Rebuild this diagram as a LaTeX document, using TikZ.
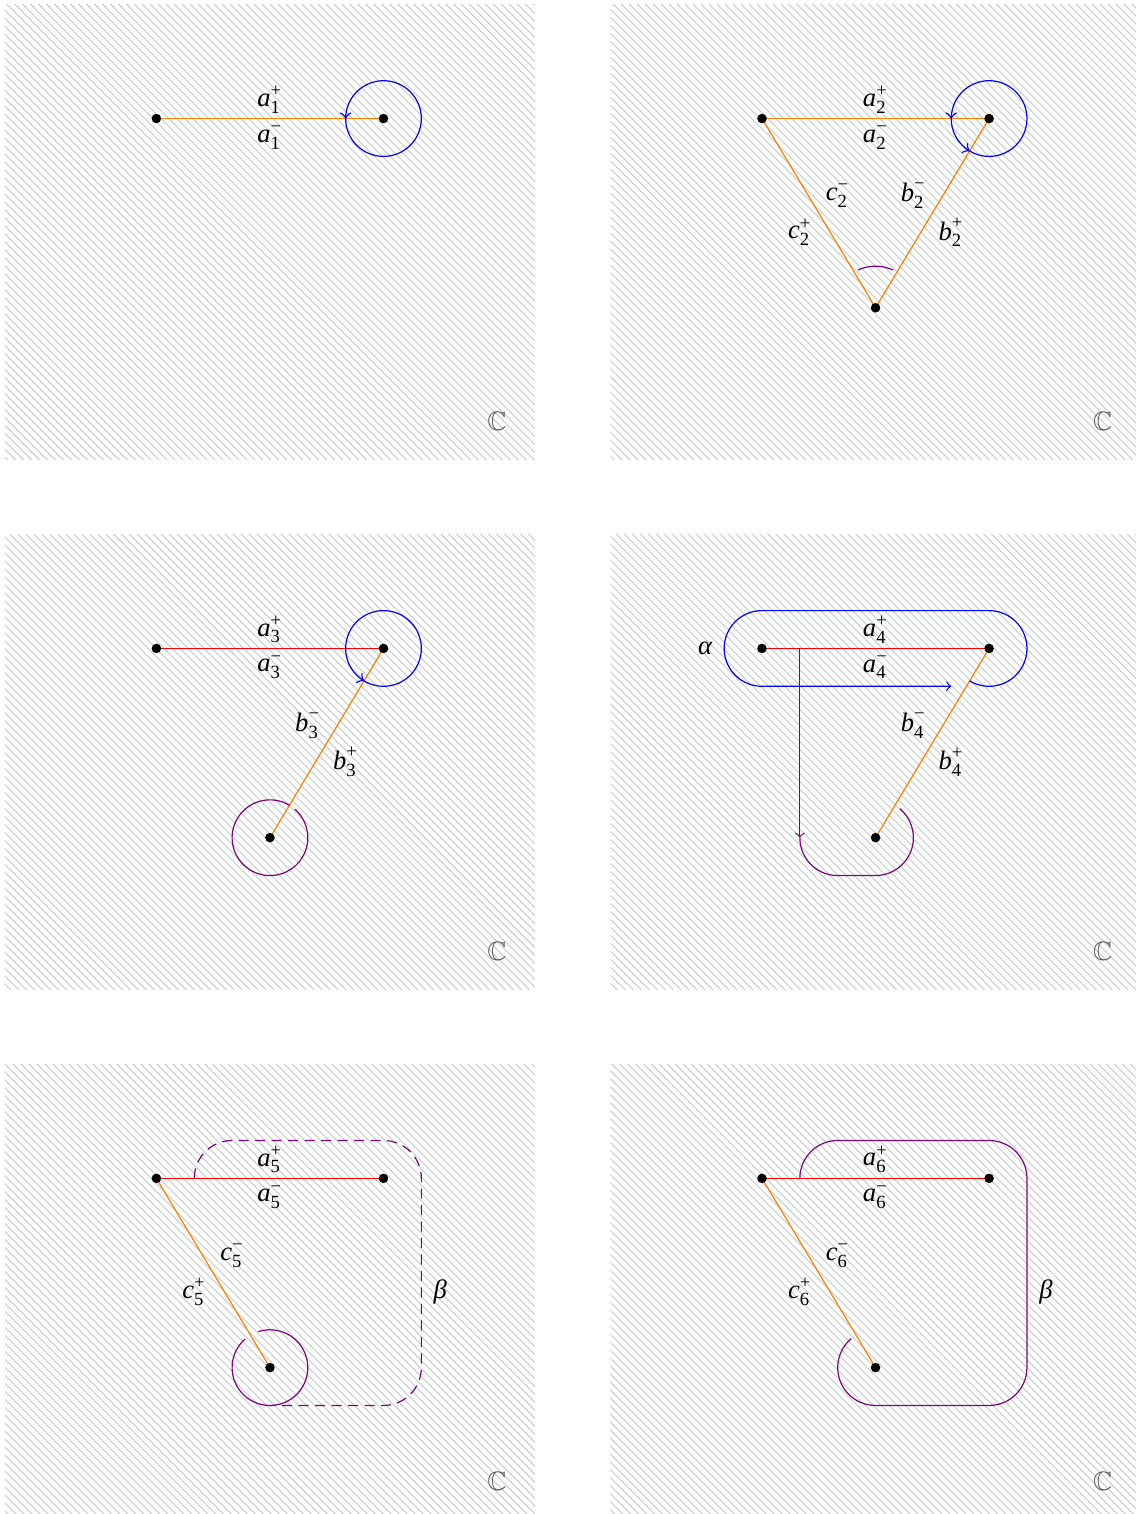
\documentclass[tikz,border=0pt]{standalone}
\usepackage{amssymb}
\usepackage{fontspec}
\setmainfont{Liberation Serif}
\newfontfamily\tms{Liberation Serif}
\usetikzlibrary{patterns,decorations.markings,calc}
\definecolor{mypurple}{RGB}{128,0,128}
\definecolor{myorange}{RGB}{255,128,0}
\definecolor{hatch}{RGB}{200,208,208}
\newcommand{\lab}[3]{$\mbox{\tms\itshape #1}_{\mbox{\tms\scriptsize #2}}^{\mbox{\tms\scriptsize #3}}$}
\tikzset{
  pt/.style={circle,fill=black,inner sep=0pt,minimum size=3.6pt},
  lbl/.style={inner sep=0pt,font=\tms},
  panelbg/.style={pattern=north west lines,pattern color=hatch,draw=none},
  arrowat/.style={postaction={decorate,decoration={markings,mark=at position #1 with {\arrow[scale=1.2]{to}}}}},
  cpl/.style={text=black!65},
  betadash/.style={dash pattern=on 3.8pt off 2.4pt},
  every path/.style={line width=0.45pt}
}
\begin{document}
\begin{tikzpicture}[x=1cm,y=1cm]
\useasboundingbox (-2.066,-18.434) rectangle (12.934,1.566);
% backgrounds
\foreach \dx/\dy in {0/0,8/0,0/-7,8/-7,0/-14,8/-14}{
  \fill[panelbg] (\dx-2,\dy-4.5) rectangle (\dx+5,\dy+1.5);
  \node[cpl] at (\dx+4.5,\dy-4) {$\mathbb{C}$};
}
% ---------- panel 1
\begin{scope}
\coordinate (A1) at (0,0);
\coordinate (B1) at (3,0);
\draw[myorange] (A1) -- (B1);
\draw[blue,arrowat=0.25] ($(B1)+(90:0.5)$) arc[start angle=90,end angle=450,radius=0.5];
\node[pt] (dA1) at (A1) {};
\node[pt] (dB1) at (B1) {};
\node[lbl] (la1p) at (1.5,0.25) {\lab{a}{1}{+}};
\node[lbl] (la1m) at (1.5,-0.25) {\lab{a}{1}{−}};
\end{scope}
% ---------- panel 2
\begin{scope}[shift={(8,0)}]
\coordinate (A2) at (0,0);
\coordinate (B2) at (3,0);
\coordinate (C2) at (1.5,-2.5);
\draw[myorange] (A2) -- (B2);
\draw[myorange] (B2) -- (C2);
\draw[myorange] (C2) -- (A2);
\draw[blue,arrowat=0.25,arrowat=0.414] ($(B2)+(90:0.5)$) arc[start angle=90,end angle=450,radius=0.5];
\draw[mypurple] ($(C2)+(65:0.55)$) arc[start angle=65,end angle=115,radius=0.55];
\node[pt] (dA2) at (A2) {};
\node[pt] (dB2) at (B2) {};
\node[pt] (dC2) at (C2) {};
\node[lbl] at (1.5,0.25) {\lab{a}{2}{+}};
\node[lbl] at (1.5,-0.25) {\lab{a}{2}{−}};
\node[lbl] at (1,-1.02) {\lab{c}{2}{−}};
\node[lbl] at (0.5,-1.5) {\lab{c}{2}{+}};
\node[lbl] at (2,-1.02) {\lab{b}{2}{−}};
\node[lbl] at (2.5,-1.5) {\lab{b}{2}{+}};
\end{scope}
% ---------- panel 3
\begin{scope}[shift={(0,-7)}]
\coordinate (A3) at (0,0);
\coordinate (B3) at (3,0);
\coordinate (C3) at (1.5,-2.5);
\draw[red] (A3) -- (B3);
\draw[myorange] (B3) -- (C3);
\draw[blue,arrowat=0.414] ($(B3)+(90:0.5)$) arc[start angle=90,end angle=450,radius=0.5];
\draw[mypurple] ($(C3)+(59:0.5)$) arc[start angle=59,end angle=409,radius=0.5];
\node[pt] (dA3) at (A3) {};
\node[pt] (dB3) at (B3) {};
\node[pt] (dC3) at (C3) {};
\node[lbl] at (1.5,0.25) {\lab{a}{3}{+}};
\node[lbl] at (1.5,-0.25) {\lab{a}{3}{−}};
\node[lbl] at (2,-1.02) {\lab{b}{3}{−}};
\node[lbl] at (2.5,-1.5) {\lab{b}{3}{+}};
\end{scope}
% ---------- panel 4
\begin{scope}[shift={(8,-7)}]
\coordinate (A4) at (0,0);
\coordinate (B4) at (3,0);
\coordinate (C4) at (1.5,-2.5);
\draw[red] (A4) -- (B4);
\draw[myorange] (B4) -- (C4);
\coordinate (al0) at ($(B4)+(239:0.5)$);
\coordinate (al1) at (2.5,-0.5);
\draw[blue,-{to[scale=1.2]}] (al0) arc[start angle=-121,end angle=90,radius=0.5] -- (0,0.5) arc[start angle=90,end angle=270,radius=0.5] -- (al1);
\coordinate (p0) at (0.5,0);
\coordinate (p1) at (0.5,-2.5);
\draw[mypurple,-{to[scale=1.2]}] (p0) -- (p1);
\draw[mypurple] (p1) arc[start angle=180,end angle=270,radius=0.5] -- (1.5,-3) arc[start angle=-90,end angle=50,radius=0.5];
\node[pt] (dA4) at (A4) {};
\node[pt] (dB4) at (B4) {};
\node[pt] (dC4) at (C4) {};
\node[lbl] at (-0.75,0) {\itshape α};
\node[lbl] at (1.5,0.25) {\lab{a}{4}{+}};
\node[lbl] at (1.5,-0.25) {\lab{a}{4}{−}};
\node[lbl] at (2,-1.02) {\lab{b}{4}{−}};
\node[lbl] at (2.5,-1.5) {\lab{b}{4}{+}};
\end{scope}
% ---------- panel 5
\begin{scope}[shift={(0,-14)}]
\coordinate (A5) at (0,0);
\coordinate (B5) at (3,0);
\coordinate (C5) at (1.5,-2.5);
\draw[red] (A5) -- (B5);
\draw[myorange] (A5) -- (C5);
\coordinate (q0) at (0.5,0);
\draw[mypurple,betadash] (q0) arc[start angle=180,end angle=90,radius=0.5] -- (3,0.5) arc[start angle=90,end angle=0,radius=0.5] -- (3.5,-2.5) arc[start angle=0,end angle=-90,radius=0.5] -- (1.5,-3);
\draw[mypurple] ($(C5)+(131:0.5)$) arc[start angle=131,end angle=468,radius=0.5];
\node[pt] (dA5) at (A5) {};
\node[pt] (dB5) at (B5) {};
\node[pt] (dC5) at (C5) {};
\node[lbl] at (1.5,0.25) {\lab{a}{5}{+}};
\node[lbl] at (1.5,-0.25) {\lab{a}{5}{−}};
\node[lbl] at (1,-1.02) {\lab{c}{5}{−}};
\node[lbl] at (0.5,-1.5) {\lab{c}{5}{+}};
\node[lbl] at (3.75,-1.5) {\itshape β};
\end{scope}
% ---------- panel 6
\begin{scope}[shift={(8,-14)}]
\coordinate (A6) at (0,0);
\coordinate (B6) at (3,0);
\coordinate (C6) at (1.5,-2.5);
\draw[red] (A6) -- (B6);
\draw[myorange] (A6) -- (C6);
\coordinate (r0) at (0.5,0);
\draw[mypurple] (r0) arc[start angle=180,end angle=90,radius=0.5] -- (3,0.5) arc[start angle=90,end angle=0,radius=0.5] -- (3.5,-2.5) arc[start angle=0,end angle=-90,radius=0.5] -- (1.5,-3) arc[start angle=-90,end angle=-230,radius=0.5];
\node[pt] (dA6) at (A6) {};
\node[pt] (dB6) at (B6) {};
\node[pt] (dC6) at (C6) {};
\node[lbl] at (1.5,0.25) {\lab{a}{6}{+}};
\node[lbl] at (1.5,-0.25) {\lab{a}{6}{−}};
\node[lbl] at (1,-1.02) {\lab{c}{6}{−}};
\node[lbl] at (0.5,-1.5) {\lab{c}{6}{+}};
\node[lbl] at (3.75,-1.5) {\itshape β};
\end{scope}
\end{tikzpicture}
\end{document}
